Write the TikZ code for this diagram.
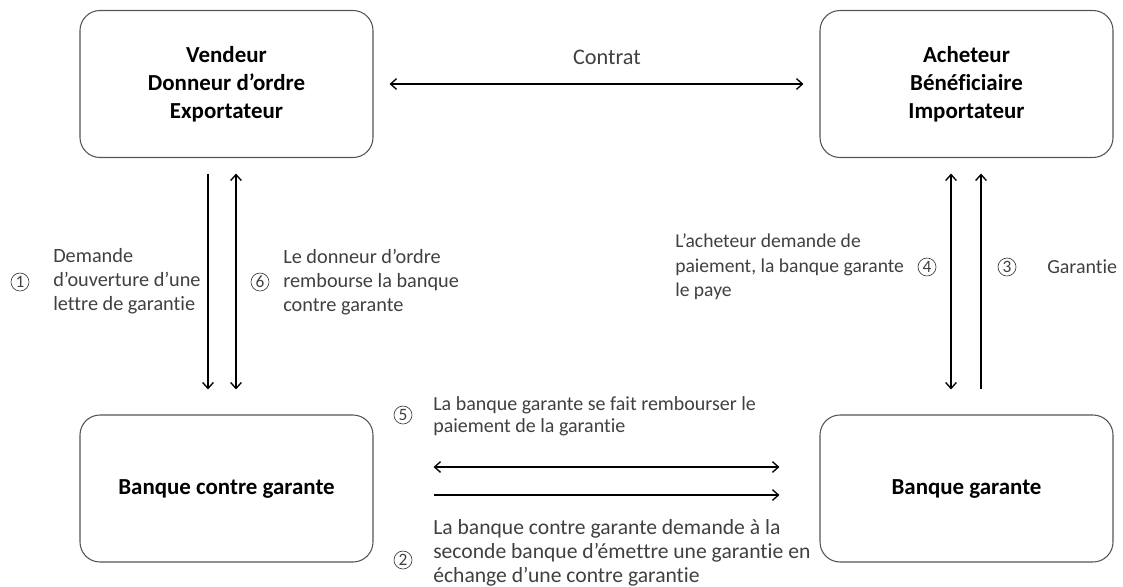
\documentclass[tikz,border=0pt]{standalone}
\usepackage{fontspec}
\setmainfont[Ligatures=NoCommon]{Carlito}
\usepackage{tikz}
\usetikzlibrary{arrows.meta,positioning}
\usetikzlibrary{calc}

\definecolor{txtgray}{RGB}{64,64,64}
\definecolor{boxgray}{RGB}{85,85,85}

\begin{document}
\begin{tikzpicture}[x=0.75pt,y=-0.75pt,
  >={Straight Barb[length=4.5pt,width=8pt]},
  box/.style={draw=boxgray,line width=0.8pt,rounded corners=15pt,
    minimum width=219.75pt,minimum height=110.25pt,align=center,
    font=\fontsize{17.2}{21}\selectfont\bfseries},
  lbl/.style={anchor=west,inner sep=0pt,align=left,text=txtgray,
    font=\fontsize{15.2}{18}\selectfont},
  num/.style={circle,draw=txtgray,line width=0.5pt,inner sep=0pt,
    minimum size=13.5pt,text=txtgray,font=\fontsize{13}{13}\selectfont},
  flow/.style={line width=1pt}]
\useasboundingbox (0,0) rectangle (1123,586);

% boites
\node[box] (vendeur)  at (226.5,84)  {Vendeur\\Donneur d'ordre\\Exportateur};
\node[box] (acheteur) at (966.5,84)  {Acheteur\\Bénéficiaire\\Importateur};
\node[box] (banquecg) at (226.5,488.5) {Banque contre garante};
\node[box] (banqueg)  at (966.5,488.5) {Banque garante};

% contrat
\draw[flow,<->] ($(vendeur.east)+(16,0)$) -- ($(acheteur.west)+(-16,0)$);
\node[lbl,anchor=center,font=\fontsize{16.7}{18}\selectfont] (contrat) at (607,57) {Contrat};

% vendeur <-> banque contre garante
\draw[flow,->] ($(vendeur.south)+(-18.5,15.5)$) -- ($(banquecg.north)+(-18.5,-25)$);
\draw[flow,<->] ($(vendeur.south)+(9.5,15.5)$) -- ($(banquecg.north)+(9.5,-25)$);
\node[num] (n1) at (20,282) {1};
\node[lbl] (t1) at (53,281) {Demande\\d'ouverture d'une\\lettre de garantie};
\node[num] (n6) at (260,282) {6};
\node[lbl] (t6) at (283,282) {Le donneur d'ordre\\rembourse la banque\\contre garante};

% acheteur <-> banque garante
\draw[flow,<->] ($(acheteur.south)+(-15.5,15.5)$) -- ($(banqueg.north)+(-15.5,-25)$);
\draw[flow,->] ($(banqueg.north)+(14.5,-25)$) -- ($(acheteur.south)+(14.5,15.5)$);
\node[lbl,font=\fontsize{14.7}{18.4}\selectfont] (t4) at (675,267) {L'acheteur demande de\\paiement, la banque garante\\le paye};
\node[num] (n4) at (927,267) {4};
\node[num] (n3) at (1007,267) {3};
\node[lbl,font=\fontsize{15}{18}\selectfont] (t3) at (1047,267) {Garantie};

% banques
\draw[flow,<->] ($(banquecg.east)+(60,-21.5)$) -- ($(banqueg.west)+(-40,-21.5)$);
\draw[flow,->] ($(banquecg.east)+(60,6.5)$) -- ($(banqueg.west)+(-40,6.5)$);
\node[num] (n5) at (403,415) {5};
\node[lbl,font=\fontsize{15}{16.5}\selectfont] (t5) at (433,416) {La banque garante se fait rembourser le\\paiement de la garantie};
\node[num] (n2) at (403,560) {2};
\node[lbl,font=\fontsize{16.2}{18}\selectfont] (t2) at (433,553) {La banque contre garante demande à la\\seconde banque d'émettre une garantie en\\échange d'une contre garantie};
\end{tikzpicture}
\end{document}
